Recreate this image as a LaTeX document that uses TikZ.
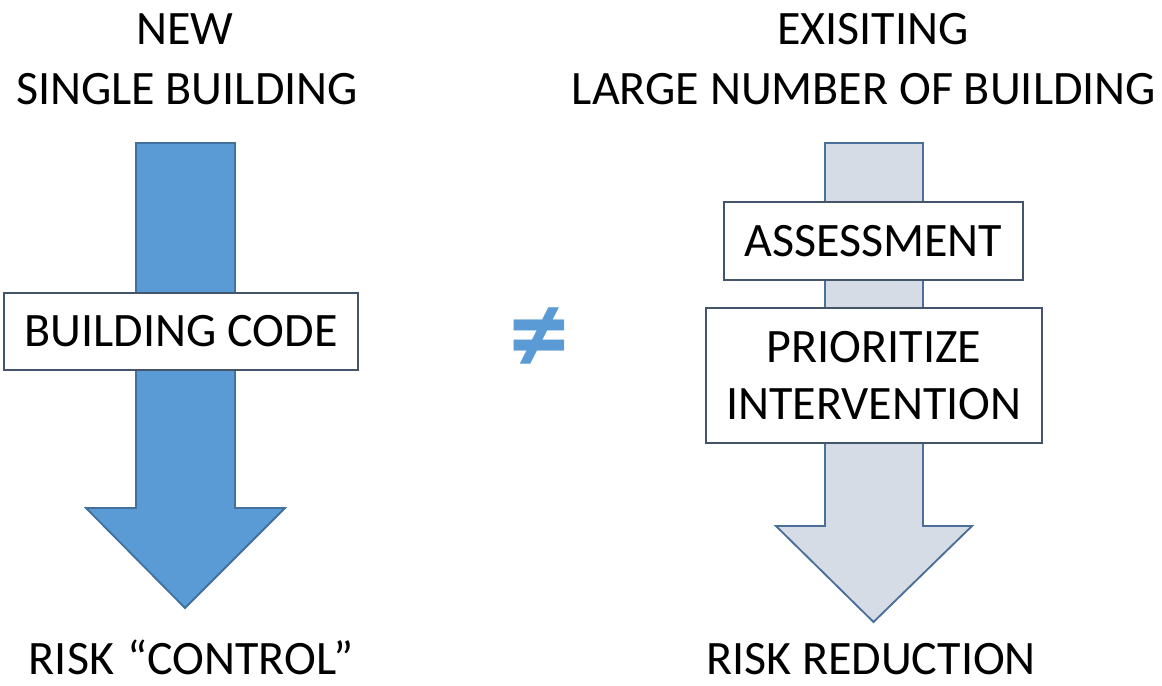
\documentclass[tikz,border=0pt]{standalone}
\usepackage{fontspec}
\setmainfont{Carlito}
\definecolor{lfill}{HTML}{5B9BD5}
\definecolor{lline}{HTML}{41719C}
\definecolor{rfill}{HTML}{D6DCE5}
\definecolor{rline}{HTML}{4A6F98}
\definecolor{boxc}{HTML}{44546A}
\definecolor{neqc}{HTML}{5B9BD5}
\tikzset{
  txt/.style={font=\fontsize{36}{44}\selectfont, inner sep=0pt, anchor=base},
  boxnode/.style={draw=boxc, line width=1.1pt, fill=white, inner sep=0pt,
    font=\fontsize{36}{43}\selectfont, align=center},
  larrow/.style={draw=lline, fill=lfill, line width=1.4pt, line join=miter},
  rarrow/.style={draw=rline, fill=rfill, line width=1.4pt, line join=miter},
}
\begin{document}
\begin{tikzpicture}[x=0.75pt,y=-0.75pt]
\useasboundingbox (0,0) rectangle (1162,685);
% headers
\node[txt] (new) at (185,45) {NEW};
\node[txt] (single) at (187,104) {SINGLE BUILDING};
\node[txt] (exist) at (873,45) {EXISITING};
\node[txt] (large) at (864,104) {LARGE NUMBER OF BUILDING};
% arrows
\draw[larrow] (136,143) -- (235,143) -- (235,508) -- (285,508) -- (185,608) -- (86,508) -- (136,508) -- cycle;
\draw[rarrow] (825,143) -- (923,143) -- (923,526) -- (972,526) -- (873.5,622) -- (776,526) -- (825,526) -- cycle;
% boxes
\node[boxnode, minimum width=265.5pt, minimum height=57.75pt] (code) at (181,331.5) {BUILDING CODE};
\node[boxnode, minimum width=224.25pt, minimum height=58.5pt] (assess) at (873.5,241) {ASSESSMENT};
\node[boxnode, minimum width=252pt, minimum height=101.25pt] (prio) at (874,375.5) {PRIORITIZE\\INTERVENTION};
% not equal
\node[font=\fontsize{90}{90}\selectfont\bfseries, text=neqc, inner sep=0pt] (neq) at (539,341) {≠};
% bottom
\node[txt] (rc) at (191,674) {RISK \kern2pt“CONTROL”};
\node[txt] (rr) at (871,674) {RISK REDUCTION};
\end{tikzpicture}
\end{document}
